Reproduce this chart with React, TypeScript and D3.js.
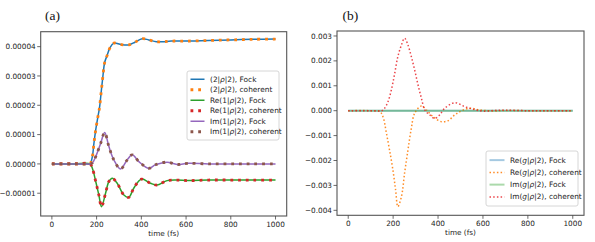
import React from "react";
import * as d3 from "d3";

// panel (a): populations / coherences, units of 1e-5
const timeRho22 = [0, 50, 100, 150, 170, 181, 188, 196, 204, 210, 214, 221, 228, 236, 248, 259, 277, 310, 344, 371, 404, 433, 467, 500, 533, 600, 700, 800, 900, 1000];
const rho22 = [0, 0, 0, 0, 0, 0.25, 0.7, 1.16, 1.53, 1.78, 1.98, 2.49, 2.98, 3.46, 3.72, 3.95, 4.12, 4.07, 4.06, 4.15, 4.27, 4.23, 4.17, 4.17, 4.19, 4.19, 4.21, 4.23, 4.25, 4.26];

const timeRe12 = [0, 100, 170, 181, 196, 210, 222, 240, 255, 270, 292, 322, 344, 366, 400, 441, 470, 515, 559, 610, 700, 800, 900, 1000];
const re12 = [0, 0, 0, -0.15, -0.6, -1.06, -1.46, -1.0, -0.6, -0.49, -0.66, -1.06, -1.14, -0.83, -0.52, -0.66, -0.72, -0.57, -0.55, -0.57, -0.55, -0.55, -0.55, -0.55];

const timeIm12 = [0, 100, 170, 181, 196, 218, 236, 255, 277, 307, 337, 359, 389, 433, 463, 515, 560, 610, 700, 800, 900, 1000];
const im12 = [0, 0, 0, 0.03, 0.25, 0.7, 1.07, 0.59, 0.14, -0.17, 0.14, 0.31, 0.08, -0.15, -0.03, 0.06, -0.02, 0.02, 0, 0, 0, 0];

// panel (b): ground-state coherences, units of 1e-3
const timeFockG = [0, 250, 500, 750, 1000];
const reGFock = [0, 0, 0, 0, 0];
const imGFock = [0, 0, 0, 0, 0];

const timeReG = [0, 100, 140, 155, 170, 184, 199, 211, 221, 237, 251, 266, 281, 296, 326, 348, 378, 415, 445, 474, 504, 541, 585, 650, 700, 800, 900, 1000];
const reGCoh = [0, 0, -0.03, -0.25, -0.9, -1.58, -2.38, -3.18, -3.85, -3.45, -2.51, -1.58, -0.71, -0.1, 0.19, 0.03, -0.24, -0.44, -0.4, -0.17, -0.01, 0.1, 0.03, -0.01, 0.01, 0, 0, 0];

const timeImG = [0, 100, 150, 162, 177, 192, 207, 221, 237, 251, 266, 281, 296, 311, 326, 341, 363, 385, 407, 430, 474, 519, 556, 600, 650, 700, 800, 900, 1000];
const imGCoh = [0, 0, 0, 0.1, 0.36, 0.83, 1.5, 2.17, 2.64, 2.91, 2.64, 2.17, 1.63, 1.03, 0.5, 0.03, -0.17, -0.31, -0.17, 0.1, 0.32, 0.16, 0.06, -0.02, 0.01, 0.02, 0, 0, 0];

const xTicks = [0, 200, 400, 600, 800, 1000];
const yTicksA = [-1, 0, 1, 2, 3, 4];
const yTicksB = [-4, -3, -2, -1, 0, 1, 2, 3];

const FONT = "DejaVu Sans";

type Series = {
  t: number[];
  v: number[];
  color: string;
  width: number;
  dash?: string;
  opacity?: number;
  label: (string | [string])[];
};

function fmtA(d: number) {
  const s = (Math.abs(d) * 1e-5).toFixed(5);
  return (d < 0 ? "\u2212" : "") + s;
}
function fmtB(d: number) {
  const s = (Math.abs(d) * 1e-3).toFixed(3);
  return (d < 0 ? "\u2212" : "") + s;
}

function Label({ parts }: { parts: (string | [string])[] }) {
  return (
    <>
      {parts.map((p, i) =>
        typeof p === "string" ? (
          <tspan key={i}>{p}</tspan>
        ) : (
          <tspan key={i} fontStyle="italic">{p[0]}</tspan>
        )
      )}
    </>
  );
}

function Panel({
  left, right, top, bottom, yDomain, yTicks, fmt, series, title, titleX,
  legend,
}: {
  left: number; right: number; top: number; bottom: number;
  yDomain: [number, number]; yTicks: number[]; fmt: (d: number) => string;
  series: Series[]; title: string; titleX: number;
  legend: { x: number; y: number; w: number; h: number; handleLen: number };
}) {
  const x = d3.scaleLinear().domain([-50, 1050]).range([left, right]);
  const y = d3.scaleLinear().domain(yDomain).range([bottom, top]);
  const line = d3
    .line<[number, number]>()
    .x((d) => x(d[0]))
    .y((d) => y(d[1]))
    .curve(d3.curveCatmullRom.alpha(0.5));

  const rowH = (legend.h - 6) / series.length;

  return (
    <g>
      <text x={titleX} y={20} fontFamily="Liberation Serif" fontSize={13.5} fill="#111">
        {title}
      </text>
      <defs>
        <clipPath id={"clip" + title}>
          <rect x={left} y={top} width={right - left} height={bottom - top} />
        </clipPath>
      </defs>
      <g clipPath={`url(#clip${title})`}>
        {series.map((s, i) => (
          <path
            key={i}
            d={line(s.t.map((t, k) => [t, s.v[k]] as [number, number])) || ""}
            fill="none"
            stroke={s.color}
            strokeWidth={s.width}
            strokeDasharray={s.dash}
            strokeOpacity={s.opacity ?? 1}
          />
        ))}
      </g>
      <rect x={left} y={top} width={right - left} height={bottom - top} fill="none" stroke="#555" strokeWidth={1.1} />
      {xTicks.map((t) => (
        <g key={t}>
          <line x1={x(t)} x2={x(t)} y1={bottom} y2={bottom + 3.5} stroke="#444" strokeWidth={0.8} />
          <text x={x(t)} y={bottom + 11} textAnchor="middle" fontFamily={FONT} fontSize={7.3} fill="#222">
            {t}
          </text>
        </g>
      ))}
      {yTicks.map((t) => (
        <g key={t}>
          <line x1={left - 3.5} x2={left} y1={y(t)} y2={y(t)} stroke="#444" strokeWidth={0.8} />
          <text x={left - 5} y={y(t) + 2.6} textAnchor="end" fontFamily={FONT} fontSize={7.3} fill="#222">
            {fmt(t)}
          </text>
        </g>
      ))}
      <text x={(left + right) / 2} y={bottom + 20} textAnchor="middle" fontFamily={FONT} fontSize={7.3} fill="#222">
        time (fs)
      </text>
      <rect x={legend.x} y={legend.y} width={legend.w} height={legend.h} rx={2} fill="white" fillOpacity={0.85} stroke="#ccc" strokeWidth={0.8} />
      {series.map((s, i) => {
        const cy = legend.y + 3 + rowH * (i + 0.5);
        return (
          <g key={i}>
            <line
              x1={legend.x + 3.5}
              x2={legend.x + 3.5 + legend.handleLen}
              y1={cy}
              y2={cy}
              stroke={s.color}
              strokeWidth={s.width}
              strokeDasharray={s.dash}
              strokeOpacity={s.opacity ?? 1}
            />
            <text x={legend.x + legend.handleLen + 9} y={cy + 2.6} fontFamily={FONT} fontSize={7.4} fill="#222">
              <Label parts={s.label} />
            </text>
          </g>
        );
      })}
    </g>
  );
}

export default function App() {
  const seriesA: Series[] = [
    { t: timeRho22, v: rho22, color: "#1f77b4", width: 1.5, label: ["(2|", ["ρ"], "|2), Fock"] },
    { t: timeRho22, v: rho22, color: "#ff7f0e", width: 2.8, dash: "2.8 4.9", label: ["(2|", ["ρ"], "|2), coherent"] },
    { t: timeRe12, v: re12, color: "#2ca02c", width: 1.5, label: ["Re(1|", ["ρ"], "|2), Fock"] },
    { t: timeRe12, v: re12, color: "#d62728", width: 2.8, dash: "2.8 4.9", label: ["Re(1|", ["ρ"], "|2), coherent"] },
    { t: timeIm12, v: im12, color: "#9467bd", width: 1.5, label: ["Im(1|", ["ρ"], "|2), Fock"] },
    { t: timeIm12, v: im12, color: "#8c564b", width: 2.8, dash: "2.8 4.9", label: ["Im(1|", ["ρ"], "|2), coherent"] },
  ];
  const seriesB: Series[] = [
    { t: timeFockG, v: reGFock, color: "#1f77b4", width: 2, opacity: 0.4, label: ["Re(", ["g"], "|", ["ρ"], "|2), Fock"] },
    { t: timeReG, v: reGCoh, color: "#ff7f0e", width: 1.5, dash: "1.5 2.2", opacity: 0.9, label: ["Re(", ["g"], "|", ["ρ"], "|2), coherent"] },
    { t: timeFockG, v: imGFock, color: "#2ca02c", width: 2, opacity: 0.4, label: ["Im(", ["g"], "|", ["ρ"], "|2), Fock"] },
    { t: timeImG, v: imGCoh, color: "#e8242a", width: 1.5, dash: "1.5 2.2", opacity: 0.85, label: ["Im(", ["g"], "|", ["ρ"], "|2), coherent"] },
  ];

  return (
    <svg width={595} height={242} style={{ display: "block", position: "absolute", left: 0, top: 0 }}>
      <rect width={595} height={242} fill="white" />
      <Panel
        left={40.7} right={286.7} top={31.7} bottom={216}
        yDomain={[-1.777, 4.51]} yTicks={yTicksA} fmt={fmtA}
        series={seriesA} title="(a)" titleX={45}
        legend={{ x: 187, y: 71, w: 92, h: 69, handleLen: 14 }}
      />
      <Panel
        left={337} right={584} top={31} bottom={215.3}
        yDomain={[-4.2, 3.2]} yTicks={yTicksB} fmt={fmtB}
        series={seriesB} title="(b)" titleX={342.5}
        legend={{ x: 486, y: 151, w: 92, h: 55, handleLen: 15 }}
      />
    </svg>
  );
}
